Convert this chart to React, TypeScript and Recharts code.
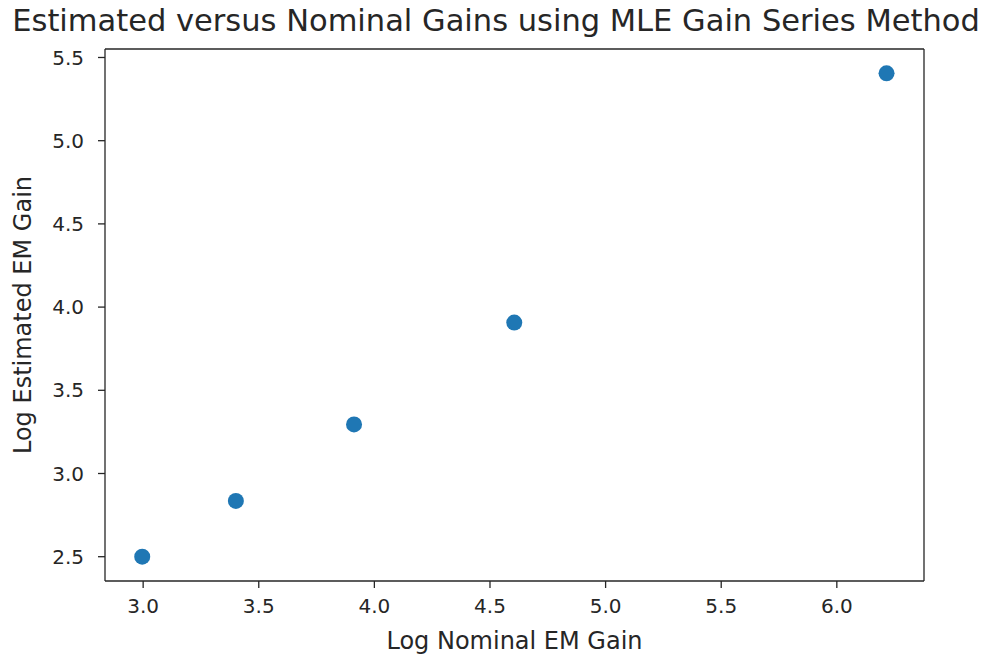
import React from "react";
import { ScatterChart, Scatter, XAxis, YAxis, ReferenceLine } from "recharts";

const nominalLogGain = [2.996, 3.401, 3.912, 4.605, 6.215];
const estimatedLogGain = [2.5, 2.835, 3.295, 3.907, 5.405];
const xTicks = [3.0, 3.5, 4.0, 4.5, 5.0, 5.5, 6.0];
const yTicks = [2.5, 3.0, 3.5, 4.0, 4.5, 5.0, 5.5];
const xDomain = [2.835, 6.377];
const yDomain = [2.354, 5.551];

const titleText = "Estimated versus Nominal Gains using MLE Gain Series Method";
const xLabel = "Log Nominal EM Gain";
const yLabel = "Log Estimated EM Gain";

const data = nominalLogGain.map((x, i) => ({ x, y: estimatedLogGain[i] }));

const FONT = "'DejaVu Sans', sans-serif";
const TEXT = "#262626";
const AXIS = "#262626";

const Dot = (props: any) => (
  <circle cx={props.cx} cy={props.cy} r={8} fill="#1f77b4" />
);

export default function App() {
  return (
    <div style={{ position: "absolute", left: 0, top: 0, width: 985, height: 659, background: "#fff", fontFamily: FONT }}>
      <ScatterChart
        width={985}
        height={659}
        margin={{ top: 49, right: 61, bottom: 0, left: 0 }}
      >
        <XAxis
          dataKey="x"
          type="number"
          orientation="bottom"
          domain={xDomain}
          ticks={xTicks}
          tickFormatter={(v: number) => v.toFixed(1)}
          height={78}
          tickSize={7}
          tickMargin={11}
          stroke={AXIS}
          strokeWidth={1.3}
          tick={{ fill: TEXT, fontSize: 20, fontFamily: FONT }}
          allowDataOverflow
          label={{ value: xLabel, position: "insideBottom", offset: 10, fill: TEXT, fontSize: 24, fontFamily: FONT }}
        />
        <YAxis
          dataKey="y"
          type="number"
          domain={yDomain}
          ticks={yTicks}
          tickFormatter={(v: number) => v.toFixed(1)}
          width={105}
          tickSize={7}
          tickMargin={14}
          stroke={AXIS}
          strokeWidth={1.3}
          tick={{ fill: TEXT, fontSize: 20, fontFamily: FONT }}
          allowDataOverflow
          label={{ value: yLabel, angle: -90, position: "insideLeft", offset: 22, fill: TEXT, fontSize: 24, fontFamily: FONT, style: { textAnchor: "middle" } }}
        />
        <ReferenceLine y={yDomain[1]} stroke={AXIS} strokeWidth={1.3} ifOverflow="extendDomain" />
        <ReferenceLine x={xDomain[1]} stroke={AXIS} strokeWidth={1.3} ifOverflow="extendDomain" />
        <Scatter
          data={data}
          shape={Dot}
          isAnimationActive={false}
        />
      </ScatterChart>
      <div
        style={{
          position: "absolute",
          left: 8,
          width: 976,
          top: 2,
          textAlign: "center",
          whiteSpace: "nowrap",
          fontSize: 30.5,
          lineHeight: "38px",
          color: TEXT,
          fontFamily: FONT,
        }}
      >
        {titleText}
      </div>
    </div>
  );
}
